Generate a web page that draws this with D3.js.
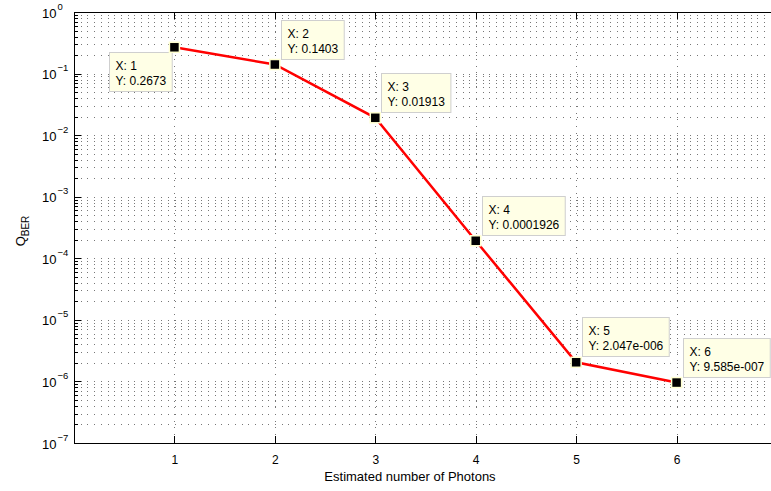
<!DOCTYPE html>
<html><head><meta charset="utf-8">
<script src="https://cdn.jsdelivr.net/npm/d3@7"></script>
<style>body{margin:0;background:#fff}svg{display:block}text{font-family:"Liberation Sans",Arial,Helvetica,sans-serif;fill:#000}</style>
</head><body><svg id="c" width="771" height="491"></svg>
<script>
// ---- data ----
const photons = [1, 2, 3, 4, 5, 6];
const qber = [0.2673, 0.1403, 0.01913, 0.0001926, 2.047e-6, 9.585e-7];
const tipYText = ["0.2673", "0.1403", "0.01913", "0.0001926", "2.047e-006", "9.585e-007"];
const tipSide = ["bl", "tr", "tr", "tr", "tr", "tr"];
const xTicks = [1, 2, 3, 4, 5, 6];
const yExponents = [0, -1, -2, -3, -4, -5, -6, -7];
const xLabel = "Estimated number of Photons";
const yLabelMain = "Q", yLabelSub = "BER";

// ---- layout ----
const svg = d3.select("#c");
const L = 74, T = 12, B = 443, R = 777;
const x = d3.scaleLinear().domain([0, 7]).range([L, R]);
const y = d3.scaleLog().domain([1e-7, 1]).range([B, T]);

const decades = yExponents.map(e => Math.pow(10, e));
const minors = [];
yExponents.filter(e => e < 0).forEach(e => { for (let m = 2; m <= 9; m++) minors.push(m * Math.pow(10, e)); });

// grid
const g = svg.append("g").attr("stroke", "#777").attr("stroke-width", 1).attr("stroke-dasharray", "1,5.7").attr("shape-rendering", "crispEdges");
decades.concat(minors).forEach(v => {
  const yy = Math.round(y(v)) + 0.5;
  g.append("line").attr("x1", L).attr("x2", R).attr("y1", yy).attr("y2", yy);
});
xTicks.forEach(v => {
  const xx = Math.round(x(v)) + 0.5;
  g.append("line").attr("x1", xx).attr("x2", xx).attr("y1", T).attr("y2", B);
});

// axes
function styleAxis(sel) {
  sel.selectAll("path,line").attr("stroke", "#000").attr("shape-rendering", "crispEdges");
}
svg.append("g").attr("transform", `translate(0,${B})`)
  .call(d3.axisBottom(x).tickValues(xTicks).tickSizeInner(-7).tickSizeOuter(0).tickPadding(12).tickFormat(d3.format("d")))
  .call(styleAxis)
  .call(s => s.selectAll("text").attr("font-size", 12).attr("font-family", '"Liberation Sans",Arial,sans-serif'));
svg.append("g").attr("transform", `translate(0,${T})`)
  .call(d3.axisTop(x).tickValues(xTicks).tickSizeInner(-7).tickSizeOuter(0).tickFormat(""))
  .call(styleAxis);
svg.append("g").attr("transform", `translate(${L},0)`)
  .call(d3.axisLeft(y).tickValues(decades).tickSizeInner(-7).tickSizeOuter(0).tickFormat(""))
  .call(styleAxis);
svg.append("g").attr("transform", `translate(${L},0)`)
  .call(d3.axisLeft(y).tickValues(minors).tickSizeInner(-4).tickSizeOuter(0).tickFormat(""))
  .call(styleAxis)
  .call(s => s.select(".domain").remove());

// y tick labels 10^e
yExponents.forEach(e => {
  const yy = y(Math.pow(10, e));
  const t = svg.append("text").attr("x", 42).attr("y", yy + 5.5).attr("font-size", 13);
  t.append("tspan").text("10");
  t.append("tspan").attr("dy", -8).attr("dx", 1).attr("font-size", 9.5).text(e < 0 ? "\u2212" + (-e) : String(e));
});

// axis labels
svg.append("text").attr("x", 410).attr("y", 481).attr("text-anchor", "middle").attr("font-size", 13).text(xLabel);
const yl = svg.append("text").attr("transform", "translate(25,231) rotate(-90)").attr("text-anchor", "middle").attr("font-size", 13);
yl.append("tspan").text(yLabelMain);
yl.append("tspan").attr("dy", 4).attr("font-size", 10).text(yLabelSub);

// line
svg.append("path").datum(photons.map((p, i) => [p, qber[i]]))
  .attr("fill", "none").attr("stroke", "#ff0000").attr("stroke-width", 2.5)
  .attr("d", d3.line().x(d => x(d[0])).y(d => y(d[1])));

// data tips
photons.forEach((p, i) => {
  const px = x(p), py = y(qber[i]);
  const tg = svg.append("g");
  const rect = tg.append("rect").attr("fill", "#ffffe6").attr("stroke", "#cfcfcf").attr("stroke-width", 1);
  const t1 = tg.append("text").attr("font-size", 12).text("X: " + p);
  const t2 = tg.append("text").attr("font-size", 12).text("Y: " + tipYText[i]);
  const w = Math.max(t1.node().getComputedTextLength(), t2.node().getComputedTextLength()) + 12;
  const h = 39;
  let left, top;
  if (tipSide[i] === "bl") { left = px - 3 - w; top = py + 5; }
  else { left = px + 6; top = py - 6 - h; }
  left = Math.round(left) + 0.5; top = Math.round(top) + 0.5;
  rect.attr("x", left).attr("y", top).attr("width", w).attr("height", h);
  t1.attr("x", left + 6).attr("y", top + 17);
  t2.attr("x", left + 6).attr("y", top + 32);
});

// markers
svg.append("g").selectAll("rect").data(photons.map((p, i) => [p, qber[i]])).join("rect")
  .attr("x", d => x(d[0]) - 5).attr("y", d => y(d[1]) - 5).attr("width", 10).attr("height", 10)
  .attr("fill", "#000").attr("stroke", "#ffffd0").attr("stroke-width", 1.5);
</script></body></html>
